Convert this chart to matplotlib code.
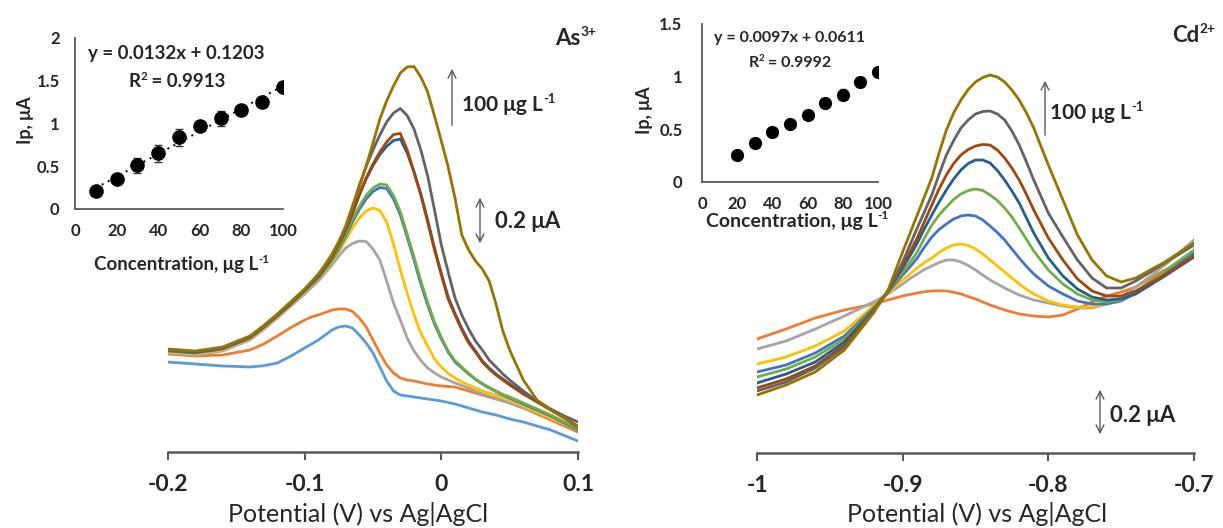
import matplotlib
matplotlib.use("Agg")
import matplotlib.pyplot as plt
from matplotlib.transforms import IdentityTransform
from matplotlib.patches import FancyArrowPatch
import numpy as np

plt.rcParams['font.family'] = ['Lato', 'DejaVu Sans']

W, H = 1223, 528

# ---- As(III): stripping voltammograms, current in uA ----
as_potential = [-0.20, -0.18, -0.16, -0.14, -0.13, -0.12, -0.11, -0.10, -0.095, -0.09,
                -0.085, -0.08, -0.075, -0.07, -0.065, -0.06, -0.055, -0.05, -0.045, -0.04,
                -0.035, -0.03, -0.025, -0.02, -0.015, -0.01, -0.005, 0.0, 0.005, 0.01,
                0.015, 0.02, 0.025, 0.03, 0.035, 0.04, 0.045, 0.05, 0.06, 0.07,
                0.08, 0.09, 0.10]
as_c10 = [.360, .352, .344, .340, .345, .356, .384, .416, .432, .448,
          .468, .488, .500, .504, .496, .468, .436, .396, .340, .284,
          .244, .228, .224, .220, .216, .212, .208, .204, .198, .192,
          .184, .176, .168, .160, .154, .148, .140, .132, .120, .104,
          .088, .066, .044]
as_c20 = [.392, .384, .388, .408, .432, .464, .498, .528, .540, .548,
          .558, .568, .572, .572, .562, .536, .500, .448, .396, .348,
          .316, .296, .288, .284, .278, .272, .268, .264, .262, .260,
          .252, .244, .236, .228, .220, .212, .204, .196, .176, .152,
          .128, .104, .080]
as_c30 = [.396, .388, .404, .448, .490, .536, .584, .632, .658, .684,
          .716, .748, .784, .816, .834, .844, .842, .812, .768, .684,
          .596, .528, .456, .404, .366, .336, .316, .300, .288, .276,
          .266, .256, .244, .232, .224, .216, .206, .196, .176, .156,
          .136, .114, .092]
as_c40 = [.400, .392, .408, .452, .494, .540, .588, .640, .666, .692,
          .724, .760, .802, .848, .896, .936, .964, .976, .966, .920,
          .832, .728, .636, .548, .476, .424, .372, .340, .314, .296,
          .280, .268, .256, .244, .236, .228, .218, .208, .184, .160,
          .136, .112, .088]
as_c50 = [.404, .396, .412, .456, .498, .544, .592, .644, .670, .696,
          .730, .768, .812, .864, .920, .970, 1.012, 1.042, 1.058, 1.054,
          1.012, .948, .860, .768, .672, .588, .512, .452, .400, .360,
          .336, .312, .290, .272, .256, .242, .228, .216, .192, .168,
          .144, .116, .088]
as_c60 = [.408, .400, .416, .460, .502, .548, .596, .648, .674, .700,
          .734, .772, .818, .872, .930, .982, 1.026, 1.056, 1.072, 1.068,
          1.026, .960, .872, .780, .684, .598, .520, .458, .404, .364,
          .340, .314, .292, .274, .258, .244, .230, .220, .196, .172,
          .148, .120, .092]
as_c70 = [.408, .400, .416, .460, .502, .548, .596, .648, .676, .704,
          .740, .780, .832, .888, .954, 1.028, 1.092, 1.146, 1.190, 1.222,
          1.246, 1.252, 1.196, 1.120, 1.032, .928, .816, .714, .620, .554,
          .494, .442, .404, .364, .336, .312, .292, .272, .236, .204,
          .170, .138, .102]
as_c80 = [.408, .400, .416, .460, .502, .548, .596, .648, .676, .704,
          .740, .780, .832, .888, .956, 1.030, 1.096, 1.152, 1.200, 1.240,
          1.270, 1.274, 1.208, 1.120, 1.028, .920, .808, .708, .612, .548,
          .488, .436, .400, .360, .332, .308, .288, .268, .232, .200,
          .168, .136, .100]
as_c90 = [.408, .400, .416, .460, .502, .548, .598, .648, .678, .708,
          .746, .788, .838, .896, .980, 1.068, 1.142, 1.208, 1.268, 1.320,
          1.356, 1.374, 1.346, 1.292, 1.208, 1.104, .968, .828, .720, .616,
          .548, .492, .444, .408, .368, .340, .312, .288, .244, .204,
          .172, .144, .120]
as_c100 = [.412, .404, .420, .464, .506, .552, .602, .652, .682, .712,
           .750, .792, .842, .904, .984, 1.060, 1.144, 1.236, 1.332, 1.404,
           1.464, 1.516, 1.540, 1.542, 1.500, 1.440, 1.344, 1.244, 1.140, 1.016,
           .868, .808, .764, .732, .684, .592, .484, .408, .288, .208,
           .168, .136, .100]

# ---- Cd(II): stripping voltammograms, current in uA ----
cd_potential = [-1.00, -0.98, -0.96, -0.94, -0.92, -0.91, -0.90, -0.895, -0.89, -0.885,
                -0.88, -0.875, -0.87, -0.865, -0.86, -0.855, -0.85, -0.845, -0.84, -0.835,
                -0.83, -0.825, -0.82, -0.815, -0.81, -0.80, -0.79, -0.78, -0.77, -0.76,
                -0.75, -0.74, -0.72, -0.70]
cd_c20 = [.456, .496, .540, .572, .596, .612, .628, .634, .640, .645,
          .648, .649, .648, .643, .636, .626, .616, .604, .592, .582,
          .572, .564, .556, .552, .548, .544, .552, .576, .604, .628,
          .644, .664, .732, .788]
cd_c30 = [.416, .448, .496, .548, .604, .636, .676, .698, .716, .734,
          .748, .762, .772, .772, .764, .750, .732, .712, .692, .676,
          .660, .646, .632, .622, .612, .600, .588, .580, .580, .596,
          .624, .664, .752, .852]
cd_c40 = [.356, .384, .428, .488, .588, .640, .692, .716, .740, .762,
          .780, .802, .820, .832, .836, .830, .816, .796, .772, .748,
          .724, .700, .676, .654, .636, .608, .592, .584, .584, .596,
          .612, .644, .724, .804]
cd_c50 = [.324, .352, .400, .468, .580, .644, .712, .744, .780, .824,
          .864, .894, .916, .936, .948, .952, .948, .932, .908, .882,
          .852, .816, .780, .746, .716, .668, .636, .608, .596, .596,
          .608, .640, .720, .800]
cd_c60 = [.304, .336, .384, .456, .576, .648, .724, .762, .804, .860,
          .912, .952, .984, 1.014, 1.036, 1.050, 1.056, 1.050, 1.032, 1.010,
          .980, .944, .900, .854, .808, .732, .676, .636, .612, .604,
          .612, .644, .728, .812]
cd_c70 = [.280, .316, .364, .444, .572, .648, .740, .788, .840, .898,
          .952, 1.004, 1.052, 1.096, 1.132, 1.158, 1.172, 1.172, 1.160, 1.130,
          1.092, 1.048, 1.000, .940, .880, .780, .708, .656, .624, .612,
          .616, .636, .708, .784]
cd_c80 = [.260, .296, .348, .432, .568, .648, .752, .804, .860, .926,
          .992, 1.056, 1.112, 1.158, 1.192, 1.214, 1.228, 1.234, 1.232, 1.212,
          1.180, 1.140, 1.092, 1.034, .972, .860, .772, .696, .648, .628,
          .628, .648, .712, .788]
cd_c90 = [.248, .284, .340, .424, .564, .648, .764, .832, .900, .966,
          1.032, 1.114, 1.192, 1.250, 1.300, 1.332, 1.356, 1.366, 1.368, 1.356,
          1.332, 1.288, 1.232, 1.164, 1.092, .960, .864, .772, .700, .660,
          .660, .688, .760, .832]
cd_c100 = [.232, .272, .324, .412, .560, .652, .804, .878, .952, 1.026,
           1.100, 1.200, 1.292, 1.360, 1.412, 1.454, 1.484, 1.502, 1.512, 1.504,
           1.484, 1.452, 1.412, 1.360, 1.300, 1.152, 1.012, .872, .772, .708,
           .684, .700, .764, .840]

# ---- calibration insets ----
as_conc = [10, 20, 30, 40, 50, 60, 70, 80, 90, 100]
as_ip = [0.21, 0.35, 0.51, 0.65, 0.84, 0.97, 1.06, 1.16, 1.25, 1.43]
as_err = [0.03, 0.03, 0.09, 0.10, 0.10, 0.05, 0.09, 0.03, 0.03, 0.04]
cd_conc = [20, 30, 40, 50, 60, 70, 80, 90, 100]
cd_ip = [0.26, 0.37, 0.47, 0.55, 0.64, 0.75, 0.83, 0.95, 1.04]
cd_err = [0.02, 0.02, 0.02, 0.02, 0.02, 0.03, 0.05, 0.03, 0.02]

# excel 2013 palette, one colour per concentration step
colors = ['#5B9BD5', '#ED7D31', '#A5A5A5', '#FFC000', '#4472C4',
          '#70AD47', '#255E91', '#9E480E', '#636363', '#997300']
TXT = '#262626'
AXC = '#595959'


def box(x0, y_top, x1, y_bot):
    """pixel box (top-left origin) -> figure fraction rect"""
    return [x0 / W, 1 - y_bot / H, (x1 - x0) / W, (y_bot - y_top) / H]


def ftext(x, y, s, **kw):
    kw.setdefault('fontweight', 'bold')
    fig.text(x / W, 1 - y / H, s, color=TXT, **kw)


def rich(x, y, parts, fs, ha='left', weight='bold'):
    """text with superscripts; x, y = pixel position of the baseline (top origin)"""
    r = fig.canvas.get_renderer()
    arts = []
    for s, sup in parts:
        t = fig.text(0, 0, s, fontsize=fs * 0.62 if sup else fs, fontweight=weight,
                     color=TXT, va='baseline', ha='left', transform=IdentityTransform())
        arts.append((t, sup, t.get_window_extent(r).width))
    total = sum(a[2] for a in arts)
    cx = x - total / 2 if ha == 'center' else x
    for t, sup, w in arts:
        t.set_position((cx, H - y + (fs * 0.55 if sup else 0)))
        cx += w


def arrow(x, y0, y1, style):
    fig.add_artist(FancyArrowPatch(
        (x / W, 1 - y0 / H), (x / W, 1 - y1 / H), transform=fig.transFigure,
        arrowstyle=style, mutation_scale=14, color=AXC, lw=1.0))


def main_axes(rect, xlim, ticks, labels):
    ax = fig.add_axes(rect)
    ax.set_xlim(xlim)
    ax.set_ylim(0, 1.7)
    for s in ['left', 'right', 'top']:
        ax.spines[s].set_visible(False)
    ax.spines['bottom'].set_color(AXC)
    ax.spines['bottom'].set_linewidth(1.8)
    ax.set_yticks([])
    ax.set_xticks(ticks)
    ax.set_xticklabels(labels, fontsize=16.5, fontweight='bold', color=TXT)
    ax.tick_params(axis='x', length=6, width=1.5, color=AXC, pad=10)
    ax.patch.set_alpha(0)
    return ax


def inset_axes(rect, ylim, yticks, ylabels, fs, ypad):
    ax = fig.add_axes(rect)
    ax.set_xlim(0, 100)
    ax.set_ylim(ylim)
    for s in ['right', 'top']:
        ax.spines[s].set_visible(False)
    for s in ['left', 'bottom']:
        ax.spines[s].set_color(AXC)
        ax.spines[s].set_linewidth(1.3)
    ax.set_xticks([0, 20, 40, 60, 80, 100])
    ax.set_xticklabels(['0', '20', '40', '60', '80', '100'], fontsize=fs,
                       fontweight='bold', color=TXT)
    ax.set_yticks(yticks)
    ax.set_yticklabels(ylabels, fontsize=fs, fontweight='bold', color=TXT)
    ax.tick_params(axis='x', length=0, pad=10)
    ax.tick_params(axis='y', length=0, pad=ypad)
    ax.patch.set_alpha(0)
    return ax


fig = plt.figure(figsize=(W / 100, H / 100), dpi=100)

# left main panel
ax1 = main_axes(box(168, 27, 578, 452), (-0.2, 0.1), [-0.2, -0.1, 0, 0.1],
                ['-0.2', '-0.1', '0', '0.1'])
as_curves = [as_c10, as_c20, as_c30, as_c40, as_c50, as_c60, as_c70, as_c80, as_c90, as_c100]
for c, col in zip(as_curves, colors):
    ax1.plot(as_potential, c, color=col, lw=2.0, solid_joinstyle='round')
ftext(358, 514, 'Potential (V) vs Ag|AgCl', fontsize=18, fontweight='normal',
      ha='center', va='center')

# right main panel
ax2 = main_axes(box(757, 28, 1194, 453), (-1.0, -0.7), [-1.0, -0.9, -0.8, -0.7],
                ['-1', '-0.9', '-0.8', '-0.7'])
cd_curves = [cd_c20, cd_c30, cd_c40, cd_c50, cd_c60, cd_c70, cd_c80, cd_c90, cd_c100]
for c, col in zip(cd_curves, colors[1:]):
    ax2.plot(cd_potential, c, color=col, lw=2.0, solid_joinstyle='round')
ftext(977, 514, 'Potential (V) vs Ag|AgCl', fontsize=18, fontweight='normal',
      ha='center', va='center')

# left inset
ia = inset_axes(box(75, 38, 283, 209), (0, 2), [0, 0.5, 1, 1.5, 2],
                ['0', '0.5', '1', '1.5', '2'], 12, 11)
slope, icpt = np.polyfit(as_conc, as_ip, 1)
xs = np.array([as_conc[0], as_conc[-1]])
ia.plot(xs, slope * xs + icpt, color='black', ls=(0, (1, 2.5)), lw=1.4)
ia.errorbar(as_conc, as_ip, yerr=as_err, fmt='o', color='black', ms=9.5,
            ecolor='#333333', elinewidth=1, capsize=3)
ftext(25, 120, 'Ip, μA', fontsize=13, rotation=90, ha='center', va='center')
rich(182, 270, [('Concentration, μg L', False), ('-1', True)], 13.5, ha='center')
ftext(176, 54, 'y = 0.0132x + 0.1203', fontsize=13.5, ha='center', va='center')
rich(177, 87, [('R', False), ('2', True), (' = 0.9913', False)], 13.5, ha='center')

# right inset
ib = inset_axes(box(702, 24, 878, 182), (0, 1.5), [0, 0.5, 1, 1.5],
                ['0', '0.5', '1', '1.5'], 12, 14)
ib.errorbar(cd_conc, cd_ip, yerr=cd_err, fmt='o', color='black', ms=8.5,
            ecolor='#333333', elinewidth=1, capsize=2.5)
ftext(645, 110, 'Ip, μA', fontsize=13, rotation=90, ha='center', va='center')
rich(797, 227, [('Concentration, μg L', False), ('-1', True)], 14, ha='center')
ftext(790, 38, 'y = 0.0097x + 0.0611', fontsize=11.5, ha='center', va='center')
rich(790, 67, [('R', False), ('2', True), (' = 0.9992', False)], 11.5, ha='center')

# species labels
rich(555, 45, [('As', False), ('3+', True)], 16)
rich(1172, 42, [('Cd', False), ('2+', True)], 16)

# concentration and scale arrows
arrow(452, 128, 66, '->')
rich(462, 111, [('100 μg L', False), ('-1', True)], 15)
arrow(480, 195, 246, '<->')
ftext(495, 221, '0.2 μA', fontsize=16, ha='left', va='center')

arrow(1045, 138, 78, '->')
rich(1050, 119, [('100 μg L', False), ('-1', True)], 15)
arrow(1100, 387, 437, '<->')
ftext(1110, 415, '0.2 μA', fontsize=16, ha='left', va='center')

fig.savefig('out.png', dpi=100, facecolor='white')
